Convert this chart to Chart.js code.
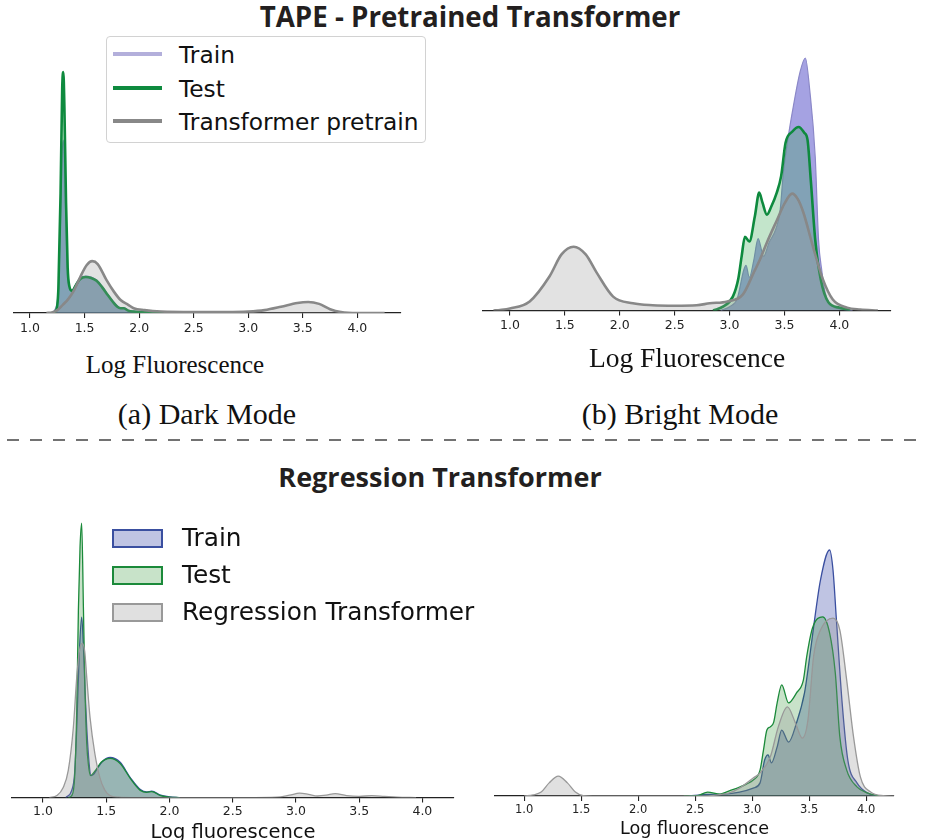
<!DOCTYPE html>
<html>
<head>
<meta charset="utf-8">
<script src="https://cdn.jsdelivr.net/npm/chart.js@4.4.1/dist/chart.umd.min.js"></script>
<style>
  html, body { margin: 0; padding: 0; background: #fff; }
  #page { position: relative; width: 927px; height: 840px; overflow: hidden; font-family: "DejaVu Sans", sans-serif; color: #111; }
  canvas { position: absolute; }
  .t { position: absolute; white-space: nowrap; line-height: 1; }
  .title { font-family: "Open Sans", sans-serif; font-weight: 700; color: #231f20; transform: translateX(-50%); }
  .cap { font-family: "Liberation Serif", serif; font-size: 30px; transform: translateX(-50%); }
  .axt { font-family: "Liberation Serif", serif; font-size: 25px; transform: translateX(-50%); }
  .leg-top { font-size: 23.3px; }
  .leg-bot { font-size: 24.8px; }
  .swl { position: absolute; height: 4px; }
  .patch { position: absolute; box-sizing: border-box; border: 2px solid; }
  #legA { position: absolute; left: 106px; top: 36px; width: 320px; height: 107px; box-sizing: border-box;
          border: 1.5px solid #d2d2d2; border-radius: 4px; background: #fff; }
</style>
</head>
<body>
<div id="page">
  <div class="t title" style="left:470px; top:3px; font-size:27.7px;">TAPE - Pretrained Transformer</div>

  <canvas id="chart-dark"></canvas>
  <canvas id="chart-bright"></canvas>

  <div id="legA"></div>
  <div class="swl" style="left:113px; top:52px; width:49px; background:#b3afdb;"></div>
  <div class="swl" style="left:113px; top:86px; width:49px; background:#0e8a3e;"></div>
  <div class="swl" style="left:113px; top:119px; width:49px; background:#888;"></div>
  <div class="t leg-top" style="left:179px; top:43px;">Train</div>
  <div class="t leg-top" style="left:179px; top:77px;">Test</div>
  <div class="t leg-top" style="left:179px; top:110px;">Transformer pretrain</div>

  <div class="t axt" style="left:175px; top:352px;">Log Fluorescence</div>

  <div class="t cap" style="left:207px; top:399px;">(a) Dark Mode</div>
  <div class="t cap" style="left:680px; top:399px;">(b) Bright Mode</div>

  <svg style="position:absolute; left:0; top:434px;" width="927" height="12">
    <line x1="7" y1="6" x2="927" y2="6" stroke="#444" stroke-width="1.6" stroke-dasharray="12 11"></line>
  </svg>

  <div class="t title" style="left:440px; top:463px; font-size:27px;">Regression Transformer</div>

  <canvas id="chart-rt-dark"></canvas>
  <canvas id="chart-rt-bright"></canvas>

  <div class="patch" style="left:112px; top:529px; width:51px; height:19px; border-color:#3a4fa0; background:#bfc4e3;"></div>
  <div class="patch" style="left:112px; top:566px; width:51px; height:19px; border-color:#1b8a3a; background:#c8e3c9;"></div>
  <div class="patch" style="left:112px; top:603px; width:51px; height:19px; border-color:#999; background:#e0e0e0;"></div>
  <div class="t leg-bot" style="left:182px; top:526px;">Train</div>
  <div class="t leg-bot" style="left:182px; top:563px;">Test</div>
  <div class="t leg-bot" style="left:182px; top:600px;">Regression Transformer</div>
</div>

<script>
const TICKS = [1.0, 1.5, 2.0, 2.5, 3.0, 3.5, 4.0];

/* ===== (a) Dark Mode, TAPE ===== */
const darkTestX  = [1.20, 1.24, 1.26, 1.28, 1.295, 1.305, 1.315, 1.33, 1.345, 1.36, 1.385, 1.42, 1.46, 1.51, 1.56, 1.61, 1.66, 1.71, 1.76, 1.80, 1.83, 1.86, 1.90, 1.95, 2.02, 2.15, 2.40];
const darkTestY  = [0, 0.06, 0.52, 2.5, 4.69, 5.02, 4.27, 2.29, 0.94, 0.56, 0.46, 0.58, 0.71, 0.75, 0.73, 0.67, 0.54, 0.38, 0.23, 0.13, 0.10, 0.10, 0.05, 0.03, 0.02, 0.01, 0];
const darkTrainX = [1.19, 1.23, 1.26, 1.28, 1.295, 1.305, 1.315, 1.33, 1.345, 1.36, 1.385, 1.42, 1.46, 1.51, 1.56, 1.61, 1.66, 1.71, 1.76, 1.80, 1.83, 1.86, 1.90, 1.95, 2.02, 2.15, 2.40];
const darkTrainY = [0, 0.08, 0.52, 1.98, 3.33, 3.60, 3.13, 1.77, 0.83, 0.56, 0.48, 0.60, 0.73, 0.77, 0.75, 0.69, 0.56, 0.40, 0.25, 0.15, 0.11, 0.11, 0.06, 0.04, 0.02, 0.01, 0];
const darkTapeX  = [1.15, 1.20, 1.25, 1.30, 1.35, 1.40, 1.46, 1.52, 1.57, 1.62, 1.70, 1.77, 1.83, 1.90, 1.95, 2.05, 2.20, 2.50, 2.80, 3.00, 3.15, 3.30, 3.45, 3.55, 3.65, 3.75, 3.85, 4.00, 4.25];
const darkTapeY  = [0, 0.01, 0.06, 0.17, 0.29, 0.46, 0.75, 1.0, 1.08, 1.02, 0.69, 0.44, 0.27, 0.17, 0.10, 0.06, 0.03, 0.02, 0.02, 0.03, 0.06, 0.13, 0.21, 0.23, 0.19, 0.08, 0.02, 0, 0];

/* ===== (b) Bright Mode, TAPE ===== */
const brightTapeX  = [0.85, 0.91, 1.00, 1.18, 1.36, 1.47, 1.58, 1.69, 1.79, 1.94, 2.12, 2.30, 2.50, 2.70, 2.82, 2.98, 3.12, 3.22, 3.28, 3.34, 3.43, 3.50, 3.57, 3.62, 3.67, 3.76, 3.85, 3.94, 4.07, 4.19, 4.35];
const brightTapeY  = [0, 0.01, 0.04, 0.19, 0.71, 1.17, 1.33, 1.17, 0.79, 0.29, 0.15, 0.11, 0.10, 0.11, 0.15, 0.19, 0.33, 0.79, 1.08, 1.42, 1.88, 2.23, 2.44, 2.33, 2.06, 1.33, 0.65, 0.23, 0.06, 0.02, 0];
const brightTestX  = [2.85, 2.94, 3.03, 3.08, 3.11, 3.14, 3.18, 3.23, 3.27, 3.30, 3.34, 3.38, 3.43, 3.47, 3.51, 3.57, 3.63, 3.68, 3.71, 3.74, 3.78, 3.83, 3.90, 4.00, 4.10];
const brightTestY  = [0, 0.08, 0.29, 0.67, 1.13, 1.54, 1.44, 1.96, 2.46, 2.25, 2.0, 2.17, 2.46, 2.81, 3.5, 3.73, 3.83, 3.71, 3.56, 2.71, 1.48, 0.65, 0.17, 0.06, 0.01];
const brightTrainX = [2.92, 3.00, 3.07, 3.13, 3.15, 3.18, 3.22, 3.26, 3.31, 3.36, 3.42, 3.46, 3.49, 3.53, 3.58, 3.64, 3.69, 3.73, 3.78, 3.81, 3.84, 3.87, 3.94, 4.02, 4.12];
const brightTrainY = [0, 0.08, 0.25, 0.85, 0.94, 0.69, 1.04, 1.5, 1.13, 1.42, 1.69, 2.08, 2.88, 3.56, 4.25, 4.96, 5.27, 4.6, 3.21, 1.48, 0.83, 0.38, 0.08, 0.03, 0];

/* ===== (c) Dark Mode, Regression Transformer ===== */
const rtDarkTestX  = [1.20, 1.227, 1.25, 1.267, 1.28, 1.293, 1.306, 1.32, 1.333, 1.346, 1.36, 1.375, 1.39, 1.42, 1.46, 1.53, 1.61, 1.69, 1.77, 1.82, 1.86, 1.93, 2.00, 2.08];
const rtDarkTestY  = [0, 0.05, 0.5, 2.18, 4.68, 6.25, 6.85, 4.68, 2.6, 1.35, 0.8, 0.55, 0.58, 0.7, 0.88, 0.98, 0.85, 0.48, 0.18, 0.13, 0.15, 0.05, 0.01, 0];
const rtDarkTrainX = [1.18, 1.227, 1.25, 1.267, 1.285, 1.306, 1.32, 1.333, 1.346, 1.365, 1.38, 1.40, 1.43, 1.47, 1.53, 1.61, 1.69, 1.77, 1.82, 1.86, 1.93, 2.00, 2.08];
const rtDarkTrainY = [0, 0.18, 0.6, 1.75, 3.43, 4.5, 3.75, 2.63, 1.75, 0.85, 0.55, 0.58, 0.73, 0.9, 1.0, 0.88, 0.5, 0.2, 0.14, 0.16, 0.06, 0.02, 0];
const rtDarkRtX    = [1.05, 1.11, 1.16, 1.20, 1.24, 1.267, 1.29, 1.31, 1.33, 1.346, 1.372, 1.41, 1.45, 1.49, 1.53, 1.60, 1.70, 2.60, 2.85, 2.95, 3.03, 3.10, 3.17, 3.24, 3.31, 3.40, 3.50, 3.60, 3.70, 3.80, 3.95];
const rtDarkRtY    = [0, 0.05, 0.25, 0.68, 1.75, 3.0, 3.7, 3.85, 3.65, 3.0, 2.0, 1.1, 0.5, 0.18, 0.05, 0.01, 0, 0, 0.01, 0.06, 0.11, 0.08, 0.04, 0.06, 0.1, 0.05, 0.03, 0.05, 0.03, 0.01, 0];

/* ===== (d) Bright Mode, Regression Transformer ===== */
const rtBrightRtX    = [1.00, 1.08, 1.15, 1.22, 1.30, 1.38, 1.45, 1.52, 1.60, 2.55, 2.70, 2.80, 2.89, 3.01, 3.07, 3.16, 3.23, 3.31, 3.38, 3.44, 3.49, 3.54, 3.60, 3.71, 3.77, 3.83, 3.89, 3.95, 4.04, 4.15, 4.25];
const rtBrightRtY    = [0, 0.03, 0.1, 0.33, 0.5, 0.33, 0.1, 0.01, 0, 0, 0.03, 0.08, 0.2, 0.45, 0.58, 0.98, 1.73, 2.23, 1.83, 1.45, 1.9, 3.5, 4.15, 4.45, 4.15, 2.9, 1.48, 0.48, 0.1, 0.01, 0];
const rtBrightTestX  = [2.40, 2.52, 2.61, 2.72, 2.80, 2.87, 2.95, 3.01, 3.07, 3.10, 3.13, 3.16, 3.19, 3.22, 3.26, 3.32, 3.39, 3.45, 3.48, 3.53, 3.62, 3.68, 3.73, 3.77, 3.83, 3.92, 4.01, 4.12];
const rtBrightTestY  = [0, 0.01, 0.1, 0.05, 0.13, 0.2, 0.3, 0.4, 0.65, 1.15, 1.65, 1.73, 1.85, 2.33, 2.78, 2.33, 2.58, 2.9, 3.5, 4.2, 4.48, 4.08, 3.08, 1.48, 0.65, 0.23, 0.08, 0];
const rtBrightTrainX = [2.45, 2.60, 2.75, 2.89, 3.01, 3.07, 3.11, 3.14, 3.17, 3.22, 3.26, 3.32, 3.39, 3.46, 3.49, 3.54, 3.60, 3.68, 3.71, 3.74, 3.79, 3.84, 3.92, 4.01, 4.12];
const rtBrightTrainY = [0, 0.04, 0.05, 0.1, 0.2, 0.33, 0.9, 1.03, 0.83, 1.23, 1.65, 1.35, 1.83, 2.58, 3.15, 4.23, 5.4, 6.15, 5.65, 4.4, 2.33, 0.9, 0.33, 0.08, 0];

// top row styles (TAPE)
const TOP = {
  train: { line: '#8b88c8', fill: 'rgba(100,95,205,0.58)', width: 1.2 },
  test:  { line: '#0e8a3e', fill: 'rgba(40,160,70,0.28)', width: 2.6 },
  ref:   { line: '#888888', fill: 'rgba(150,150,150,0.28)', width: 2.6 }
};
// bottom row styles (RT)
const BOT = {
  train: { line: '#3a4fa0', fill: 'rgba(60,75,170,0.33)', width: 1.3 },
  test:  { line: '#1b8a3a', fill: 'rgba(35,140,40,0.25)', width: 1.3 },
  ref:   { line: '#999999', fill: 'rgba(140,140,140,0.27)', width: 1.3 }
};

const charts = {};

function kdeChart(id, box, series, opts) {
  const cv = document.getElementById(id);
  cv.width = box.w; cv.height = box.h;
  cv.style.left = box.x + 'px'; cv.style.top = box.y + 'px';
  charts[id] = new Chart(cv, {
    type: 'line',
    data: {
      datasets: series.map(s => ({
        label: s.label,
        data: s.xs.map((x, i) => ({ x, y: s.ys[i] })),
        borderColor: s.style.line,
        backgroundColor: s.style.fill,
        borderWidth: s.style.width,
        fill: 'origin',
        pointRadius: 0,
        cubicInterpolationMode: 'monotone'
      }))
    },
    options: {
      responsive: false, animation: false, devicePixelRatio: 1,
      layout: { padding: box.pad },
      plugins: { legend: { display: false }, tooltip: { enabled: false } },
      scales: {
        x: {
          type: 'linear', min: opts.xmin, max: opts.xmax,
          afterBuildTicks: sc => { sc.ticks = TICKS.map(v => ({ value: v })); },
          ticks: {
            font: { family: 'DejaVu Sans', size: opts.tickSize }, color: '#222',
            padding: opts.tickPad, maxRotation: 0, autoSkip: false,
            callback: v => Number(v).toFixed(1)
          },
          grid: { drawOnChartArea: false, drawTicks: true, tickLength: 5, color: '#222', lineWidth: 1.1 },
          border: { color: '#222', width: 1.3 },
          title: opts.title
            ? { display: true, text: opts.title, font: opts.titleFont, color: '#111', padding: opts.titlePad }
            : { display: false }
        },
        y: { display: false, min: 0, max: opts.ymax }
      }
    }
  });
}

// (a) - axis title is placed as text above, it sits left of the axis centre
kdeChart('chart-dark',
  { x: 0, y: 40, w: 420, h: 299, pad: { left: 14, right: 19, top: 8, bottom: 0 } },
  [
    { label: 'Transformer pretrain', xs: darkTapeX, ys: darkTapeY, style: TOP.ref },
    { label: 'Test', xs: darkTestX, ys: darkTestY, style: TOP.test },
    { label: 'Train', xs: darkTrainX, ys: darkTrainY, style: TOP.train }
  ],
  { xmin: 0.853, xmax: 4.40, ymax: 5.52, tickSize: 12.5, tickPad: 3, title: null });

// (b)
kdeChart('chart-bright',
  { x: 470, y: 38, w: 440, h: 338, pad: { left: 13, right: 19, top: 8, bottom: 0 } },
  [
    { label: 'Transformer pretrain', xs: brightTapeX, ys: brightTapeY, style: TOP.ref },
    { label: 'Test', xs: brightTestX, ys: brightTestY, style: TOP.test },
    { label: 'Train', xs: brightTrainX, ys: brightTrainY, style: TOP.train }
  ],
  { xmin: 0.755, xmax: 4.47, ymax: 5.52, tickSize: 12.5, tickPad: 3,
    title: 'Log Fluorescence', titleFont: { family: 'Liberation Serif', size: 27.5 }, titlePad: { top: 6.5, bottom: 0 } });

// (c)
kdeChart('chart-rt-dark',
  { x: 0, y: 500, w: 465, h: 345, pad: { left: 12, right: 11, top: 9, bottom: 0 } },
  [
    { label: 'Regression Transformer', xs: rtDarkRtX, ys: rtDarkRtY, style: BOT.ref },
    { label: 'Test', xs: rtDarkTestX, ys: rtDarkTestY, style: BOT.test },
    { label: 'Train', xs: rtDarkTrainX, ys: rtDarkTrainY, style: BOT.train }
  ],
  { xmin: 0.755, xmax: 4.25, ymax: 7.2, tickSize: 12.5, tickPad: 2,
    title: 'Log fluorescence', titleFont: { family: 'DejaVu Sans', size: 19.5 }, titlePad: { top: 0, bottom: 0 } });

// (d)
kdeChart('chart-rt-bright',
  { x: 475, y: 500, w: 430, h: 340, pad: { left: 20, right: 11, top: 9, bottom: 0 } },
  [
    { label: 'Regression Transformer', xs: rtBrightRtX, ys: rtBrightRtY, style: BOT.ref },
    { label: 'Test', xs: rtBrightTestX, ys: rtBrightTestY, style: BOT.test },
    { label: 'Train', xs: rtBrightTrainX, ys: rtBrightTrainY, style: BOT.train }
  ],
  { xmin: 0.745, xmax: 4.245, ymax: 7.175, tickSize: 11.5, tickPad: 2,
    title: 'Log fluorescence', titleFont: { family: 'DejaVu Sans', size: 17.6 }, titlePad: { top: 0, bottom: 0 } });
</script>
</body>
</html>
